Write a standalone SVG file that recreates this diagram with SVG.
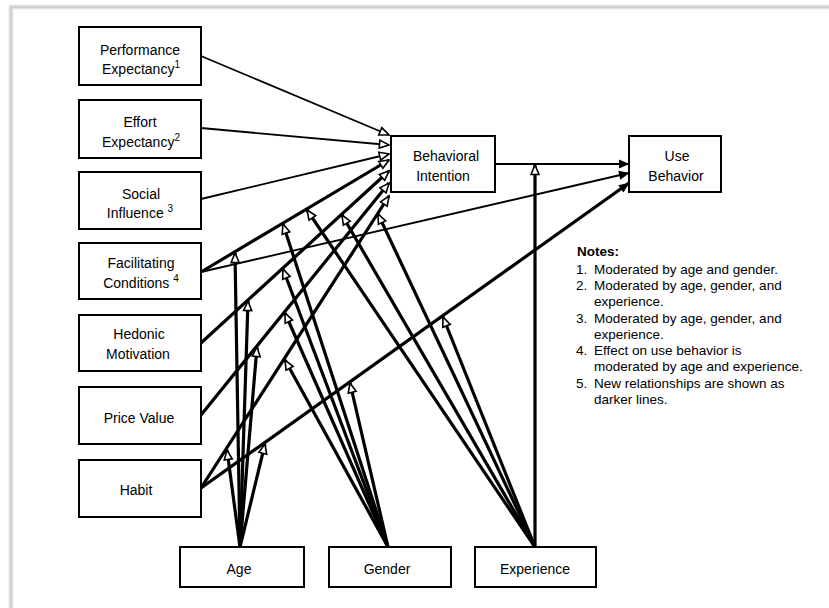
<svg xmlns="http://www.w3.org/2000/svg" width="829" height="608" viewBox="0 0 829 608">
<defs>
<style>
.box{fill:#fff;stroke:#000;stroke-width:2}
.lbl{font-family:"Liberation Sans",Arial,sans-serif;font-size:14px;fill:#000;text-anchor:middle}
.sup{font-size:10px}
.note{font-family:"Liberation Sans",Arial,sans-serif;font-size:13.5px;fill:#000}
.thin{stroke:#000;stroke-width:1.8;fill:none;marker-end:url(#open)}
.thick{stroke:#000;stroke-width:3.2;fill:none;marker-end:url(#open)}
.thinub{stroke:#000;stroke-width:1.8;fill:none;marker-end:url(#solid)}
.thickub{stroke:#000;stroke-width:3.2;fill:none;marker-end:url(#solid)}
</style>
<marker id="open" markerUnits="userSpaceOnUse" markerWidth="13" markerHeight="11" viewBox="0 0 13 11" refX="11" refY="5.5" orient="auto">
<path d="M1.5,1.5 L11,5.5 L1.5,9.5 z" fill="#fff" stroke="#000" stroke-width="1.6"/>
</marker>
<marker id="solid" markerUnits="userSpaceOnUse" markerWidth="13" markerHeight="11" viewBox="0 0 13 11" refX="11" refY="5.5" orient="auto">
<path d="M1,1 L11.5,5.5 L1,10 z" fill="#000"/>
</marker>
</defs>
<rect x="0" y="0" width="829" height="608" fill="#fff"/>
<g id="frame">
<path d="M11,608 V7 H829" fill="none" stroke="#e6e6e6" stroke-width="5"/>
<path d="M11,608 V7 H829" fill="none" stroke="#c8c8c8" stroke-width="1.5"/>
</g>
<g id="connectors">
<line class="thin" x1="201" y1="56" x2="389" y2="135"/>
<line class="thin" x1="201" y1="128" x2="389" y2="145"/>
<line class="thin" x1="201" y1="199" x2="389" y2="154"/>
<line class="thick" x1="201" y1="272" x2="389" y2="160"/>
<line class="thinub" x1="201" y1="272" x2="629" y2="173"/>
<line class="thick" x1="201" y1="343" x2="389" y2="171"/>
<line class="thick" x1="201" y1="415" x2="389" y2="183"/>
<line class="thick" x1="201" y1="488" x2="389" y2="196"/>
<line class="thickub" x1="201" y1="488" x2="629" y2="183"/>
<line class="thinub" x1="495" y1="164" x2="629" y2="164"/>
<line class="thick" x1="240" y1="547" x2="235" y2="253"/>
<line class="thick" x1="240" y1="547" x2="248" y2="301"/>
<line class="thick" x1="240" y1="547" x2="257" y2="347"/>
<line class="thick" x1="240" y1="547" x2="227" y2="450"/>
<line class="thick" x1="240" y1="547" x2="265" y2="444"/>
<line class="thick" x1="388" y1="547" x2="283" y2="224"/>
<line class="thick" x1="388" y1="547" x2="283" y2="269"/>
<line class="thick" x1="388" y1="547" x2="285" y2="313"/>
<line class="thick" x1="388" y1="547" x2="285" y2="360"/>
<line class="thick" x1="388" y1="547" x2="350" y2="383"/>
<line class="thick" x1="535" y1="547" x2="307" y2="210"/>
<line class="thick" x1="535" y1="547" x2="342" y2="215"/>
<line class="thick" x1="535" y1="547" x2="378" y2="214"/>
<line class="thick" x1="535" y1="547" x2="443" y2="317"/>
<line class="thick" x1="535" y1="547" x2="535" y2="165"/>
</g>
<g id="pe"><rect class="box" x="79" y="27" width="122" height="58"/>
<text class="lbl" x="140" y="55">Performance</text>
<text class="lbl" x="141" y="74">Expectancy<tspan class="sup" dy="-6">1</tspan></text></g>
<g id="ee"><rect class="box" x="79" y="100" width="122" height="58"/>
<text class="lbl" x="140" y="127">Effort</text>
<text class="lbl" x="141" y="147">Expectancy<tspan class="sup" dy="-6">2</tspan></text></g>
<g id="si"><rect class="box" x="79" y="172" width="122" height="57"/>
<text class="lbl" x="141" y="199">Social</text>
<text class="lbl" x="140" y="218">Influence <tspan class="sup" dy="-6">3</tspan></text></g>
<g id="fc"><rect class="box" x="79" y="243" width="122" height="56"/>
<text class="lbl" x="141" y="268">Facilitating</text>
<text class="lbl" x="141" y="288">Conditions <tspan class="sup" dy="-6">4</tspan></text></g>
<g id="hm"><rect class="box" x="79" y="315" width="122" height="56"/>
<text class="lbl" x="139" y="339">Hedonic</text>
<text class="lbl" x="138" y="359">Motivation</text></g>
<g id="pv"><rect class="box" x="79" y="387" width="122" height="57"/>
<text class="lbl" x="139" y="423">Price Value</text></g>
<g id="ht"><rect class="box" x="79" y="460" width="122" height="57"/>
<text class="lbl" x="136" y="495">Habit</text></g>
<g id="bi"><rect class="box" x="391" y="136" width="104" height="56"/>
<text class="lbl" x="446" y="161">Behavioral</text>
<text class="lbl" x="443" y="181">Intention</text></g>
<g id="ub"><rect class="box" x="629" y="136" width="92" height="56"/>
<text class="lbl" x="677" y="161">Use</text>
<text class="lbl" x="676" y="181">Behavior</text></g>
<g id="age"><rect class="box" x="180" y="547" width="124" height="40"/>
<text class="lbl" x="239" y="574">Age</text></g>
<g id="gender"><rect class="box" x="329" y="547" width="122" height="40"/>
<text class="lbl" x="387" y="574">Gender</text></g>
<g id="experience"><rect class="box" x="475" y="547" width="121" height="40"/>
<text class="lbl" x="535" y="574">Experience</text></g>
<g id="notes">
<text class="note" x="577" y="256" font-weight="bold">Notes:</text>
<text class="note" x="576" y="274">1.</text><text class="note" x="594" y="274">Moderated by age and gender.</text>
<text class="note" x="576" y="290">2.</text><text class="note" x="594" y="290">Moderated by age, gender, and</text>
<text class="note" x="594" y="306">experience.</text>
<text class="note" x="576" y="323">3.</text><text class="note" x="594" y="323">Moderated by age, gender, and</text>
<text class="note" x="594" y="339">experience.</text>
<text class="note" x="576" y="355">4.</text><text class="note" x="594" y="355">Effect on use behavior is</text>
<text class="note" x="594" y="371">moderated by age and experience.</text>
<text class="note" x="576" y="388">5.</text><text class="note" x="594" y="388">New relationships are shown as</text>
<text class="note" x="594" y="404">darker lines.</text>
</g>
</svg>
